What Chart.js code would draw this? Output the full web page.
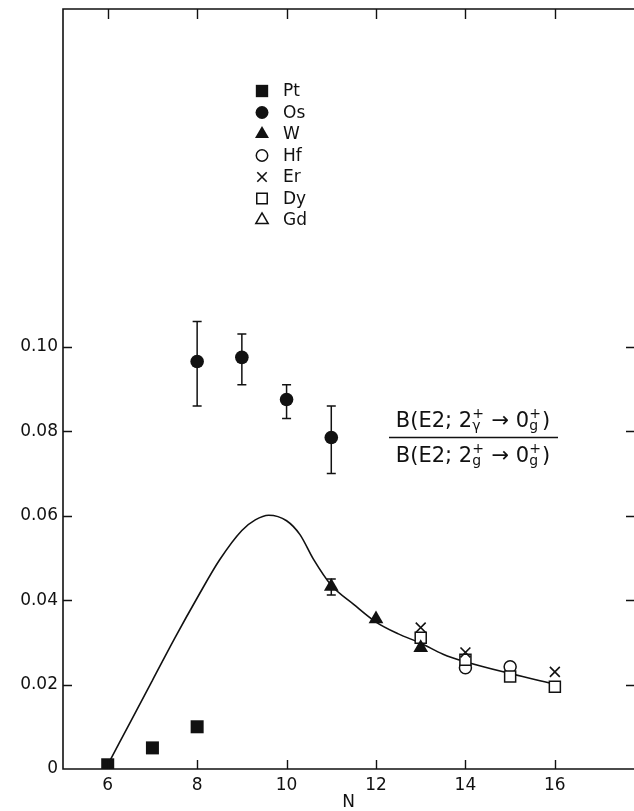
<!DOCTYPE html>
<html>
<head>
<meta charset="utf-8">
<script src="https://cdn.jsdelivr.net/npm/chart.js@4"></script>
<style>
  html, body { margin: 0; padding: 0; background: #fff; }
  #wrap { width: 634px; height: 811px; }
</style>
</head>
<body>
<div id="wrap"><canvas id="ratioChart" width="634" height="811"></canvas></div>
<script>
// ---- data: B(E2) gamma/ground ratio vs N ----
const ptN = [6, 7, 8];
const ptRatio = [0.001, 0.005, 0.010];

const osN = [8, 9, 10, 11];
const osRatio = [0.0965, 0.0975, 0.0875, 0.0785];
const osLow = [0.086, 0.091, 0.083, 0.070];
const osHigh = [0.106, 0.103, 0.091, 0.086];

const wN = [11, 12, 13];
const wRatio = [0.0432, 0.0355, 0.0287];
const wErrN = [11];
const wLow = [0.0412];
const wHigh = [0.0450];

const hfN = [14, 15];
const hfRatio = [0.0240, 0.0242];

const erN = [13, 14, 16];
const erRatio = [0.0335, 0.0276, 0.0230];

const dyN = [13, 14, 15, 16];
const dyRatio = [0.0311, 0.0259, 0.0219, 0.0195];

const gdN = [];
const gdRatio = [];

const curveN = [6, 6.5, 7, 7.5, 8, 8.5, 9, 9.3, 9.6, 10, 10.3, 10.6, 11, 11.5, 12, 12.5, 13, 13.5, 14, 15, 16];
const curveRatio = [0.001, 0.011, 0.021, 0.031, 0.0405, 0.0495, 0.0565, 0.059, 0.0601, 0.0588, 0.0555, 0.0497, 0.0435, 0.039, 0.0348, 0.032, 0.0298, 0.0272, 0.0254, 0.0226, 0.0201];

const xTicks = [6, 8, 10, 12, 14, 16];
const yTicks = [0, 0.02, 0.04, 0.06, 0.08, 0.10];
const xMin = 5, xMax = 17.77, yMin = 0, yMax = 0.18;

const ink = '#111';
const FONT = '"DejaVu Sans", sans-serif';

function pts(xs, ys) {
    return xs.map((x, i) => ({ x: x, y: ys[i] }));
}

// marker styles, shared by the datasets and the legend
const markers = {
    Pt: { pointStyle: 'rect', pointRadius: 9.2, backgroundColor: ink, borderColor: ink, borderWidth: 0 },
    Os: { pointStyle: 'circle', pointRadius: 6.8, backgroundColor: ink, borderColor: ink, borderWidth: 0 },
    W:  { pointStyle: 'triangle', pointRadius: 8.5, backgroundColor: ink, borderColor: ink, borderWidth: 0 },
    Hf: { pointStyle: 'circle', pointRadius: 6, backgroundColor: '#fff', borderColor: ink, borderWidth: 1.5 },
    Er: { pointStyle: 'crossRot', pointRadius: 7, backgroundColor: '#fff', borderColor: ink, borderWidth: 1.6 },
    Dy: { pointStyle: 'rect', pointRadius: 7.8, backgroundColor: '#fff', borderColor: ink, borderWidth: 1.5 },
    Gd: { pointStyle: 'triangle', pointRadius: 7.5, backgroundColor: '#fff', borderColor: ink, borderWidth: 1.5 }
};
const legendOrder = ['Pt', 'Os', 'W', 'Hf', 'Er', 'Dy', 'Gd'];

const errorBars = [
    { n: osN, lo: osLow, hi: osHigh },
    { n: wErrN, lo: wLow, hi: wHigh }
];

function series(label, xs, ys, order) {
    return Object.assign({ label: label, data: pts(xs, ys), showLine: false, order: order }, markers[label]);
}

// axis frame, inward ticks, error bars, legend and ratio label
const platePlugin = {
    id: 'plate',
    beforeDatasetsDraw(chart) {
        const ctx = chart.ctx, x = chart.scales.x, y = chart.scales.y;
        ctx.save();
        ctx.strokeStyle = ink;
        ctx.lineWidth = 1.5;
        errorBars.forEach(eb => {
            eb.n.forEach((n, i) => {
                const px = x.getPixelForValue(n);
                const top = y.getPixelForValue(eb.hi[i]);
                const bot = y.getPixelForValue(eb.lo[i]);
                ctx.beginPath();
                ctx.moveTo(px, top); ctx.lineTo(px, bot);
                ctx.moveTo(px - 4.5, top); ctx.lineTo(px + 4.5, top);
                ctx.moveTo(px - 4.5, bot); ctx.lineTo(px + 4.5, bot);
                ctx.stroke();
            });
        });
        ctx.restore();
    },
    afterDraw(chart) {
        const ctx = chart.ctx, area = chart.chartArea;
        const x = chart.scales.x, y = chart.scales.y;
        ctx.save();
        ctx.strokeStyle = ink;
        ctx.lineWidth = 1.6;

        // frame: left, bottom and top; the right side only carries ticks
        ctx.beginPath();
        ctx.moveTo(area.right, area.top); ctx.lineTo(area.left, area.top);
        ctx.lineTo(area.left, area.bottom); ctx.lineTo(area.right, area.bottom);
        ctx.stroke();

        ctx.lineWidth = 1.4;
        ctx.beginPath();
        xTicks.forEach(v => {
            const px = Math.round(x.getPixelForValue(v)) + 0.5;
            ctx.moveTo(px, area.bottom); ctx.lineTo(px, area.bottom - 9);
            ctx.moveTo(px, area.top); ctx.lineTo(px, area.top + 10);
        });
        yTicks.slice(1).forEach(v => {
            const py = Math.round(y.getPixelForValue(v)) + 0.5;
            ctx.moveTo(area.left, py); ctx.lineTo(area.left + 9, py);
            ctx.moveTo(area.right, py); ctx.lineTo(area.right - 8, py);
        });
        ctx.stroke();

        // legend
        ctx.font = '17px ' + FONT;
        ctx.textBaseline = 'middle';
        ctx.textAlign = 'left';
        ctx.fillStyle = ink;
        legendOrder.forEach((name, i) => {
            const m = markers[name];
            const ly = 91 + i * 21.5;
            ctx.save();
            ctx.fillStyle = m.backgroundColor;
            ctx.strokeStyle = m.borderColor;
            ctx.lineWidth = m.borderWidth;
            Chart.helpers.drawPoint(ctx, {
                pointStyle: m.pointStyle,
                radius: m.pointRadius * 0.95,
                rotation: 0,
                borderWidth: m.borderWidth
            }, 262, ly);
            ctx.restore();
            ctx.fillText(name, 283, ly + 1);
        });

        drawRatioLabel(ctx, 473, 437, 389, 558);
        ctx.restore();
    }
};

// B(E2; 2+γ → 0+g) / B(E2; 2+g → 0+g)
function drawRatioLabel(ctx, cx, lineY, x0, x1) {
    const big = '21px ' + FONT, small = '14px ' + FONT;
    const num = [{ t: 'B(E2; 2' }, { sup: '+', sub: 'γ' }, { t: ' → 0' }, { sup: '+', sub: 'g' }, { t: ')' }];
    const den = [{ t: 'B(E2; 2' }, { sup: '+', sub: 'g' }, { t: ' → 0' }, { sup: '+', sub: 'g' }, { t: ')' }];

    function width(parts) {
        let w = 0;
        parts.forEach(p => {
            if (p.t) { ctx.font = big; w += ctx.measureText(p.t).width; }
            else { ctx.font = small; w += Math.max(ctx.measureText(p.sup).width, ctx.measureText(p.sub).width) + 1; }
        });
        return w;
    }
    function line(parts, baseY) {
        let px = cx - width(parts) / 2;
        ctx.textBaseline = 'alphabetic';
        ctx.textAlign = 'left';
        parts.forEach(p => {
            if (p.t) {
                ctx.font = big;
                ctx.fillText(p.t, px, baseY);
                px += ctx.measureText(p.t).width;
            } else {
                ctx.font = small;
                ctx.fillText(p.sup, px, baseY - 9);
                ctx.fillText(p.sub, px, baseY + 3);
                px += Math.max(ctx.measureText(p.sup).width, ctx.measureText(p.sub).width) + 1;
            }
        });
    }
    ctx.fillStyle = ink;
    line(num, lineY - 10);
    line(den, lineY + 25);
    ctx.lineWidth = 1.5;
    ctx.beginPath();
    ctx.moveTo(x0, lineY + 0.5); ctx.lineTo(x1, lineY + 0.5);
    ctx.stroke();
}

const ctx = document.getElementById('ratioChart');
new Chart(ctx, {
    type: 'scatter',
    data: {
        datasets: [
            series('Pt', ptN, ptRatio, 1),
            series('Os', osN, osRatio, 1),
            series('W', wN, wRatio, 1),
            series('Er', erN, erRatio, 2),
            series('Dy', dyN, dyRatio, 3),
            series('Hf', hfN, hfRatio, 4),
            series('Gd', gdN, gdRatio, 5),
            {
                label: 'calc',
                data: pts(curveN, curveRatio),
                showLine: true,
                borderColor: ink,
                borderWidth: 1.6,
                pointRadius: 0,
                cubicInterpolationMode: 'monotone',
                fill: false,
                order: 10
            }
        ]
    },
    options: {
        responsive: false,
        animation: false,
        devicePixelRatio: 1,
        layout: { autoPadding: false, padding: { top: 9, right: 0, left: 0, bottom: 0 } },
        plugins: { legend: { display: false }, tooltip: { enabled: false } },
        scales: {
            x: {
                type: 'linear',
                min: xMin,
                max: xMax,
                grid: { display: false, drawTicks: false },
                border: { display: false },
                afterBuildTicks: s => { s.ticks = xTicks.map(v => ({ value: v })); },
                afterFit: s => { s.height = 42; s.paddingLeft = 0; s.paddingRight = 0; },
                ticks: {
                    color: ink,
                    padding: 6,
                    maxRotation: 0,
                    font: { family: FONT, size: 17 },
                    callback: v => String(v)
                },
                title: {
                    display: true,
                    text: 'N',
                    color: ink,
                    font: { family: FONT, size: 17, lineHeight: 1 },
                    padding: { top: 0, bottom: 0 }
                }
            },
            y: {
                type: 'linear',
                min: yMin,
                max: yMax,
                grid: { display: false, drawTicks: false },
                border: { display: false },
                afterBuildTicks: s => { s.ticks = yTicks.map(v => ({ value: v })); },
                afterFit: s => { s.width = 63; s.paddingTop = 0; s.paddingBottom = 0; },
                ticks: {
                    color: ink,
                    padding: 5,
                    font: { family: FONT, size: 17 },
                    callback: v => v === 0 ? '0' : v.toFixed(2)
                }
            }
        }
    },
    plugins: [platePlugin]
});
</script>
</body>
</html>
